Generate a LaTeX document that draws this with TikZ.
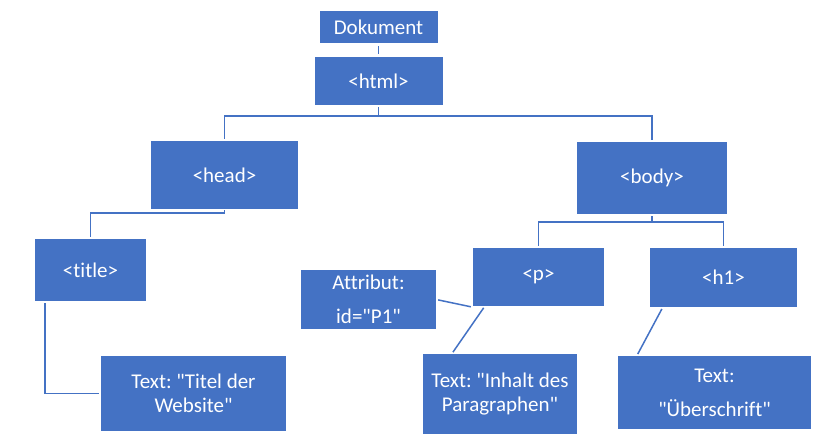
\documentclass[tikz,border=0pt]{standalone}
\usepackage{fontspec}
\newfontfamily\boxfont{Carlito}[Ligatures=NoCommon]
\usepackage{xcolor}
\usepackage{tikz}
\definecolor{officeblue}{HTML}{4472C4}
\frenchspacing

\begin{document}
\begin{tikzpicture}
                [
                x=1pt, y=-1pt,
                box/.style={rectangle,fill=officeblue,text=white,inner sep=0pt,align=center,font=\boxfont\fontsize{21}{24}\selectfont},
                wide/.style={font=\boxfont\fontsize{21}{34}\selectfont},
                edge/.style={draw=officeblue,line width=1.5pt,shorten <=2pt,shorten >=2pt}
                ]
            \useasboundingbox (0,0) rectangle (828,447);
            \node[box,minimum width=118pt,minimum height=32pt] (dok) at (378.5,27) {Dokument};
            \node[box,minimum width=128pt,minimum height=48pt] (html) at (378.5,81) {<html>};
            \node[box,minimum width=147pt,minimum height=68pt] (head) at (224.5,175) {<head>};
            \node[box,minimum width=150pt,minimum height=72pt] (body) at (652,178) {<body>};
            \node[box,minimum width=111pt,minimum height=62pt] (title) at (90.5,270) {<title>};
            \node[box,minimum width=185pt,minimum height=75pt] (titeltext) at (193.5,393.5) {Text: "Titel der\\Website"};
            \node[box,wide,minimum width=135pt,minimum height=59pt] (attr) at (368.5,299.5) {Attribut:\\id="P1"};
            \node[box,minimum width=131pt,minimum height=58pt] (p) at (538.5,277) {<p>};
            \node[box,minimum width=147pt,minimum height=59pt] (h1) at (723.5,277.5) {<h1>};
            \node[box,minimum width=154pt,minimum height=80pt] (inhalt) at (500,394) {Text: "Inhalt des\\Paragraphen"};
            \node[box,wide,minimum width=193pt,minimum height=73pt] (ueber) at (714.5,392.5) {Text:\\"Überschrift"};
            \coordinate (split1) at (378.5,116);
            \coordinate (split2) at (224.5,213);
            \coordinate (split3) at (652,222);
            \draw[edge,shorten <=3pt,shorten >=3pt] (dok) -- (html);
            \draw[edge,shorten >=0pt] (html) -- (split1);
            \draw[edge,shorten <=0pt] (split1) -| (head);
            \draw[edge,shorten <=0pt] (split1) -| (body);
            \draw[edge,shorten >=0pt,shorten <=1pt] (head) -- (split2);
            \draw[edge,shorten <=0pt] (split2) -| (title);
            \draw[edge] ([xshift=10pt]title.south west) |- (titeltext);
            \draw[edge,shorten >=0pt] (body) -- (split3);
            \draw[edge,shorten <=0pt] (split3) -| (p);
            \draw[edge,shorten <=0pt] (split3) -| (h1);
            \draw[edge] (attr.east) -- ([yshift=-1pt]p.south west);
            \draw[edge] ([xshift=12pt]p.south west) -- ([xshift=29pt]inhalt.north west);
            \draw[edge] ([xshift=13pt]h1.south west) -- ([xshift=19pt]ueber.north west);
            \end{tikzpicture}
\end{document}
